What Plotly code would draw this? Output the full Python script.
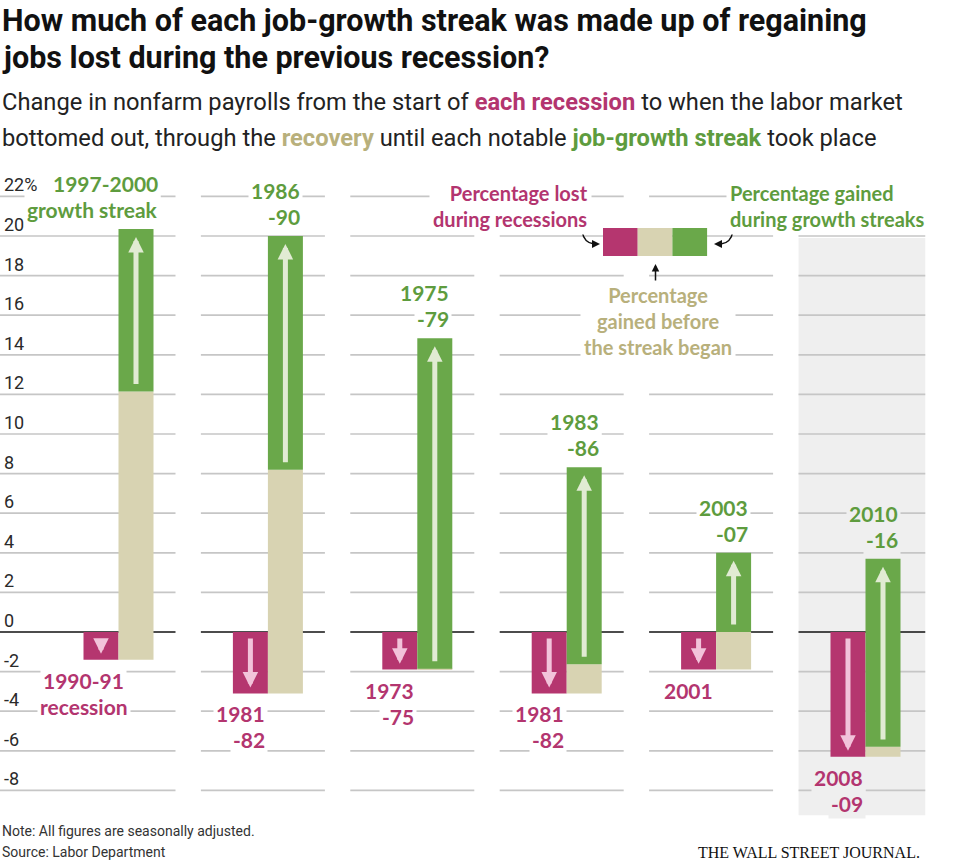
import plotly.graph_objects as go

# ---------------- data ----------------
recession_labels = ["1990-91<br>recession", "1981<br>-82", "1973<br>-75", "1981<br>-82", "2001", "2008<br>-09"]
streak_labels = ["1997-2000<br>growth streak", "1986<br>-90", "1975<br>-79", "1983<br>-86", "2003<br>-07", "2010<br>-16"]
pct_lost = [-1.4, -3.1, -1.9, -3.1, -1.9, -6.3]          # lost during recession
pct_before = [13.55, 11.3, 0.05, 1.47, 1.9, 0.5]        # regained before streak
pct_streak = [8.2, 11.8, 16.68, 9.95, 4.0, 9.5]         # gained during streak
tick_vals = [-8, -6, -4, -2, 0, 2, 4, 6, 8, 10, 12, 14, 16, 18, 20, 22]
tick_text = ["-8", "-6", "-4", "-2", "0", "2", "4", "6", "8", "10", "12", "14", "16", "18", "20", "22%"]

# ---------------- style ----------------
W, H = 959, 862
MAG = "#b5366f"
BEIGE = "#d8d3b2"
GREEN = "#6aa84a"
MAG_T = "#b3356f"
BEIGE_T = "#b8b07c"
GREEN_T = "#5e9c3e"
PINK_ARROW = "#f2c3da"
GREEN_ARROW = "#e1ebd3"
GRID = "#c6c6c6"
PANEL_BG = "#efefef"
NARROW = "Roboto, Liberation Sans Narrow, sans-serif"
BOLD = "Lato, Open Sans, sans-serif"

# pixel <-> axis mapping (plot area = whole figure)
PX_PER_UNIT_Y = 19.8
Y0_PX = 632
PX_PER_UNIT_X = 149.4
X0_PX = 118.5
y_range = [(Y0_PX - H) / PX_PER_UNIT_Y, Y0_PX / PX_PER_UNIT_Y]
x_range = [-X0_PX / PX_PER_UNIT_X, (W - X0_PX) / PX_PER_UNIT_X]
bw = 35 / PX_PER_UNIT_X


def fx(px):
    return px / W


def fy(py):
    return 1 - py / H


n = len(pct_lost)
idx = list(range(n))
before_base = pct_lost
streak_base = [l + b for l, b in zip(pct_lost, pct_before)]
streak_top = [s + g for s, g in zip(streak_base, pct_streak)]

fig = go.Figure()
fig.add_trace(go.Bar(x=[i - bw / 2 for i in idx], y=pct_lost, base=[0] * n, width=bw,
                     marker=dict(color=MAG, line=dict(width=0)), hoverinfo="skip"))
fig.add_trace(go.Bar(x=[i + bw / 2 for i in idx], y=pct_before, base=before_base, width=bw,
                     marker=dict(color=BEIGE, line=dict(width=0)), hoverinfo="skip"))
fig.add_trace(go.Bar(x=[i + bw / 2 for i in idx], y=pct_streak, base=streak_base, width=bw,
                     marker=dict(color=GREEN, line=dict(width=0)), hoverinfo="skip"))

shapes = []
# gray background for last panel
shapes.append(dict(type="rect", xref="x", yref="y", x0=n - 1 - 0.448, x1=n - 1 + 0.40,
                   y0=-9.25, y1=19.9, fillcolor=PANEL_BG, line=dict(width=0), layer="below"))
for i in idx:
    x0 = x_range[0] if i == 0 else i - 0.4485
    x1 = i + 0.3815 if i < n - 1 else i + 0.40
    for v in tick_vals:
        shapes.append(dict(type="line", xref="x", yref="y", x0=x0, x1=x1, y0=v, y1=v,
                           line=dict(color="#111111" if v == 0 else GRID, width=1.7),
                           layer="below"))

annotations = []

# arrows inside bars
for i in idx:
    lo = pct_lost[i]
    tail = -0.25
    tip = lo + 0.3
    if tip - tail > -0.9:
        tail = -0.35
    annotations.append(dict(x=i - bw / 2, y=tip, ax=i - bw / 2, ay=tail, xref="x", yref="y",
                            axref="x", ayref="y", text="", showarrow=True, arrowhead=2,
                            arrowsize=0.62, arrowwidth=5, arrowcolor=PINK_ARROW))
    annotations.append(dict(x=i + bw / 2, y=streak_top[i] - 0.4, ax=i + bw / 2, ay=streak_base[i] + 0.3,
                            xref="x", yref="y", axref="x", ayref="y", text="", showarrow=True,
                            arrowhead=2, arrowsize=0.62, arrowwidth=5, arrowcolor=GREEN_ARROW))

# bar labels (one annotation per line so the gridlines show between them)
LBL = 21
LINE_H = 26
for i in idx:
    bg = PANEL_BG if i == n - 1 else "white"
    s_lines = streak_labels[i].split("<br>")
    for k, line in enumerate(s_lines):
        annotations.append(dict(x=i + bw, y=streak_top[i], xref="x", yref="y", text="<b>%s</b>" % line,
                                showarrow=False, xanchor="right", yanchor="bottom",
                                yshift=4 + LINE_H * (len(s_lines) - 1 - k),
                                xshift=(7 if i == 0 else 0),
                                font=dict(family=BOLD, size=LBL, color=GREEN_T), bgcolor=bg, borderpad=2))
    r_lines = recession_labels[i].split("<br>")
    for k, line in enumerate(r_lines):
        if i == 0:
            annotations.append(dict(x=i - bw, y=pct_lost[i], xref="x", yref="y",
                                    text="<b>%s</b>" % line, showarrow=False,
                                    xanchor="center", yanchor="top", yshift=-5 - LINE_H * k,
                                    font=dict(family=BOLD, size=LBL, color=MAG_T), bgcolor=bg, borderpad=2))
        else:
            annotations.append(dict(x=i, y=pct_lost[i], xref="x", yref="y",
                                    text="<b>%s</b>" % line, showarrow=False,
                                    xanchor="right", yanchor="top", yshift=-5 - LINE_H * k,
                                    font=dict(family=BOLD, size=LBL, color=MAG_T), bgcolor=bg, borderpad=2))

# y tick labels
for v, t in zip(tick_vals, tick_text):
    annotations.append(dict(x=fx(2), xref="paper", y=v, yref="y", text=t, showarrow=False,
                            xanchor="left", yanchor="bottom", yshift=-1,
                            font=dict(family=NARROW, size=18, color="#2a2a2a")))

# title and subtitle
TITLE_FONT = dict(family=NARROW, size=30.5, color="#111111", weight="bold")
annotations.append(dict(x=0, y=fy(20), xref="paper", yref="paper", xanchor="left", yanchor="middle",
                        showarrow=False, text="How much of each job-growth streak was made up of regaining",
                        font=TITLE_FONT))
annotations.append(dict(x=0, y=fy(57), xref="paper", yref="paper", xanchor="left", yanchor="middle",
                        showarrow=False, text="jobs lost during the previous recession?", font=TITLE_FONT))
SUB_FONT = dict(family=NARROW, size=23.7, color="#222222")
annotations.append(dict(x=0, y=fy(102), xref="paper", yref="paper", xanchor="left", yanchor="middle",
                        showarrow=False,
                        text="Change in nonfarm payrolls from the start of <b><span style='color:%s'>each recession</span></b> to when the labor market" % MAG_T,
                        font=SUB_FONT))
annotations.append(dict(x=0, y=fy(138), xref="paper", yref="paper", xanchor="left", yanchor="middle",
                        showarrow=False,
                        text="bottomed out, through the <b><span style='color:%s'>recovery</span></b> until each notable <b><span style='color:%s'>job-growth streak</span></b> took place" % (BEIGE_T, GREEN_T),
                        font=SUB_FONT))

# legend key
for k, c in enumerate([MAG, BEIGE, GREEN]):
    shapes.append(dict(type="rect", xref="paper", yref="paper", x0=fx(603 + 34.7 * k), x1=fx(603 + 34.7 * (k + 1)),
                       y0=fy(256), y1=fy(228), fillcolor=c, line=dict(width=0)))
LEG_FONT = dict(family=BOLD, size=20)
annotations.append(dict(x=fx(592), y=fy(206), xref="paper", yref="paper", xanchor="right", yanchor="middle",
                        align="right", showarrow=False, text="<b>Percentage lost<br>during recessions</b>",
                        font=dict(color=MAG_T, **LEG_FONT), bgcolor="white", borderpad=3))
annotations.append(dict(x=fx(726), y=fy(206), xref="paper", yref="paper", xanchor="left", yanchor="middle",
                        align="left", showarrow=False, text="<b>Percentage gained<br>during growth streaks</b>",
                        font=dict(color=GREEN_T, **LEG_FONT), bgcolor="white", borderpad=3))
annotations.append(dict(x=fx(658), y=fy(321), xref="paper", yref="paper", xanchor="center", yanchor="middle",
                        align="center", showarrow=False, text="<b>Percentage<br>gained before<br>the streak began</b>",
                        font=dict(color=BEIGE_T, **LEG_FONT), bgcolor="white", borderpad=3))
# small pointer arrows
annotations.append(dict(x=fx(655.5), y=fy(264), ax=0, ay=18, xref="paper", yref="paper",
                        text="", showarrow=True, arrowhead=2, arrowsize=1,
                        arrowwidth=1.5, arrowcolor="#111111"))
shapes.append(dict(type="path", xref="paper", yref="paper",
                   path="M %f %f Q %f %f %f %f" % (fx(582), fy(231), fx(584), fy(243), fx(594), fy(244)),
                   line=dict(color="#111111", width=1.5)))
shapes.append(dict(type="path", xref="paper", yref="paper",
                   path="M %f %f L %f %f L %f %f Z" % (fx(600), fy(244), fx(592), fy(240), fx(592), fy(248)),
                   fillcolor="#111111", line=dict(width=0)))
shapes.append(dict(type="path", xref="paper", yref="paper",
                   path="M %f %f Q %f %f %f %f" % (fx(733), fy(231), fx(731), fy(243), fx(721), fy(244)),
                   line=dict(color="#111111", width=1.5)))
shapes.append(dict(type="path", xref="paper", yref="paper",
                   path="M %f %f L %f %f L %f %f Z" % (fx(714), fy(244), fx(722), fy(240), fx(722), fy(248)),
                   fillcolor="#111111", line=dict(width=0)))

# footer
FOOT = dict(family=NARROW, size=14, color="#333333")
annotations.append(dict(x=0, y=fy(831), xref="paper", yref="paper", xanchor="left", yanchor="middle",
                        showarrow=False, text="Note: All figures are seasonally adjusted.", font=FOOT))
annotations.append(dict(x=0, y=fy(852), xref="paper", yref="paper", xanchor="left", yanchor="middle",
                        showarrow=False, text="Source: Labor Department", font=FOOT))
annotations.append(dict(x=fx(922), y=fy(852), xref="paper", yref="paper", xanchor="right", yanchor="middle",
                        showarrow=False, text="THE WALL STREET JOURNAL.",
                        font=dict(family="Liberation Serif, DejaVu Serif, serif", size=16, color="#111111")))

fig.update_layout(
    width=W, height=H,
    margin=dict(l=0, r=0, t=0, b=0),
    paper_bgcolor="white", plot_bgcolor="white",
    showlegend=False, barmode="overlay",
    xaxis=dict(range=x_range, visible=False, fixedrange=True),
    yaxis=dict(range=y_range, visible=False, fixedrange=True),
    shapes=shapes, annotations=annotations,
)
fig.write_html("out.html", config=dict(displayModeBar=False),
               post_script="document.body.style.margin='0px';")
